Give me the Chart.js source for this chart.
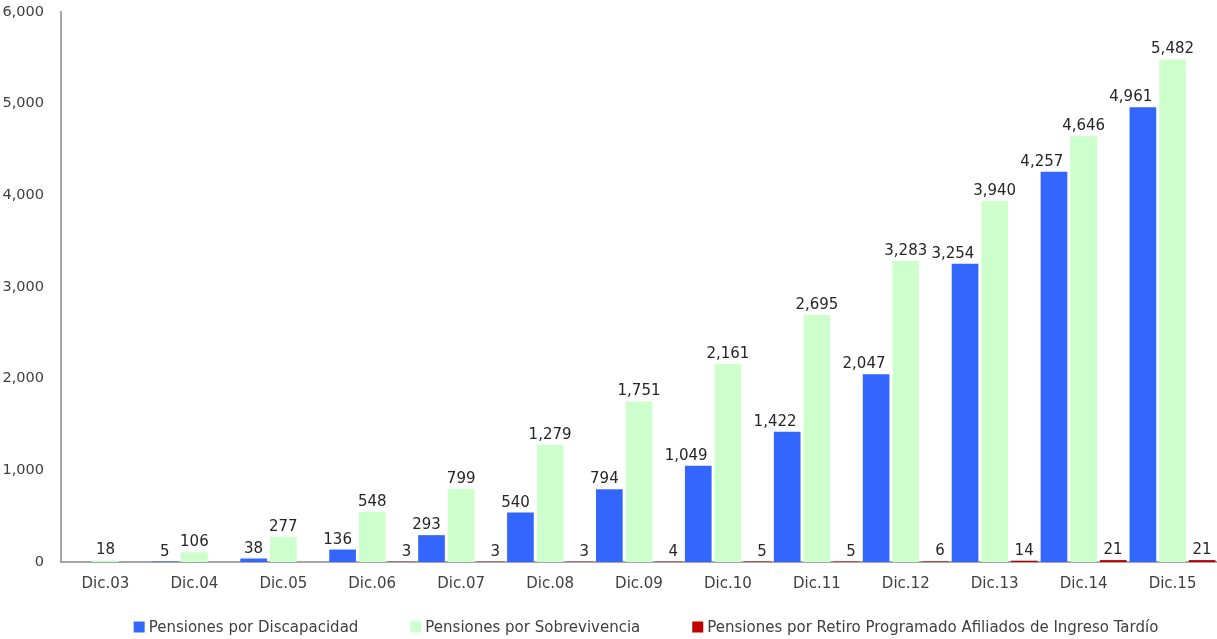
<!DOCTYPE html>
<html>
<head>
<meta charset="utf-8">
<script src="https://cdn.jsdelivr.net/npm/chart.js@4"></script>
<style>
  html, body { margin: 0; padding: 0; background: #ffffff; }
  #wrap { width: 1217px; height: 639px; position: relative; }
</style>
</head>
<body>
<div id="wrap"><canvas id="chart"></canvas></div>
<script>
// Year-end pension counts
const categories = ['Dic.03','Dic.04','Dic.05','Dic.06','Dic.07','Dic.08','Dic.09','Dic.10','Dic.11','Dic.12','Dic.13','Dic.14','Dic.15'];
const discapacidad = [null, 5, 38, 136, 293, 540, 794, 1049, 1422, 2047, 3254, 4257, 4961];
const sobrevivencia = [18, 106, 277, 548, 799, 1279, 1751, 2161, 2695, 3283, 3940, 4646, 5482];
const retiroTardio = [null, null, null, 3, 3, 3, 4, 5, 5, 6, 14, 21, 21];
const seriesNames = ['Pensiones por Discapacidad', 'Pensiones por Sobrevivencia', 'Pensiones por Retiro Programado Afiliados de Ingreso Tardío'];
const yTicks = [0, 1000, 2000, 3000, 4000, 5000, 6000];

const FONT = "'DejaVu Sans', sans-serif";
const TEXT = '#262626';
const AXIS = '#a6a6a6';
const fmt = new Intl.NumberFormat('en-US');

// Value labels above each bar
const valueLabels = {
  id: 'valueLabels',
  afterDatasetsDraw(chart) {
    const ctx = chart.ctx;
    ctx.save();
    ctx.font = '15px ' + FONT;
    ctx.fillStyle = TEXT;
    ctx.textAlign = 'center';
    ctx.textBaseline = 'alphabetic';
    chart.data.datasets.forEach((ds, di) => {
      const meta = chart.getDatasetMeta(di);
      meta.data.forEach((bar, i) => {
        const v = ds.data[i];
        if (v === null || v === undefined) return;
        const txt = fmt.format(v);
        const w = ctx.measureText(txt).width;
        const right = bar.x + bar.width / 2;
        let x = bar.x;
        if (di === 0) x = Math.min(bar.x, right - 4 - w / 2);
        if (di === 2) x = right - 4 - w / 2;
        ctx.fillText(txt, x, bar.y - 6);
      });
    });
    ctx.restore();
  }
};

// Legend row under the axis, centred on the plot area
const bottomLegend = {
  id: 'bottomLegend',
  afterDraw(chart) {
    const ctx = chart.ctx;
    ctx.save();
    ctx.font = '15px ' + FONT;
    const box = 11, gapText = 4, gapItem = 52;
    const items = chart.data.datasets.map(ds => ({ text: ds.label, color: ds.backgroundColor, w: ctx.measureText(ds.label).width }));
    const total = items.reduce((s, it) => s + box + gapText + it.w, 0) + gapItem * (items.length - 1);
    const area = chart.chartArea;
    let x = (area.left + area.right) / 2 + 7 - total / 2;
    const y = 627;
    items.forEach(it => {
      ctx.fillStyle = it.color;
      ctx.fillRect(x, y - box / 2, box, box);
      x += box + gapText;
      ctx.fillStyle = '#404040';
      ctx.textAlign = 'left';
      ctx.textBaseline = 'middle';
      ctx.fillText(it.text, x, y + 1);
      x += it.w + gapItem;
    });
    ctx.restore();
  }
};

new Chart(document.getElementById('chart'), {
  type: 'bar',
  data: {
    labels: categories,
    datasets: [
      { label: seriesNames[0], data: discapacidad, backgroundColor: '#3366ff', borderWidth: 0 },
      { label: seriesNames[1], data: sobrevivencia, backgroundColor: '#ccffcc', borderWidth: 0 },
      { label: seriesNames[2], data: retiroTardio, backgroundColor: '#c00000', borderWidth: 0 }
    ]
  },
  options: {
    responsive: true,
    maintainAspectRatio: false,
    animation: false,
    locale: 'en-US',
    layout: { padding: { top: 12, right: 0, bottom: 0, left: 0 } },
    datasets: { bar: { categoryPercentage: 1.0, barPercentage: 0.9 } },
    plugins: {
      legend: { display: false },
      tooltip: { enabled: false }
    },
    scales: {
      x: {
        grid: { display: false, drawTicks: false },
        border: { display: true, color: AXIS, width: 2 },
        ticks: { color: '#404040', font: { family: FONT, size: 15 }, padding: 13, maxRotation: 0 },
        afterFit(scale) { scale.height = 77; }
      },
      y: {
        min: 0,
        max: 6000,
        afterBuildTicks(scale) { scale.ticks = yTicks.map(v => ({ value: v })); },
        grid: { display: false, drawTicks: true, tickLength: 17 },
        border: { display: true, color: AXIS, width: 2 },
        ticks: { color: '#404040', font: { family: FONT, size: 14.5 }, padding: 0,
                 callback: v => fmt.format(v) },
        afterFit(scale) { scale.width = 61; }
      }
    }
  },
  plugins: [valueLabels, bottomLegend]
});
</script>
</body>
</html>
